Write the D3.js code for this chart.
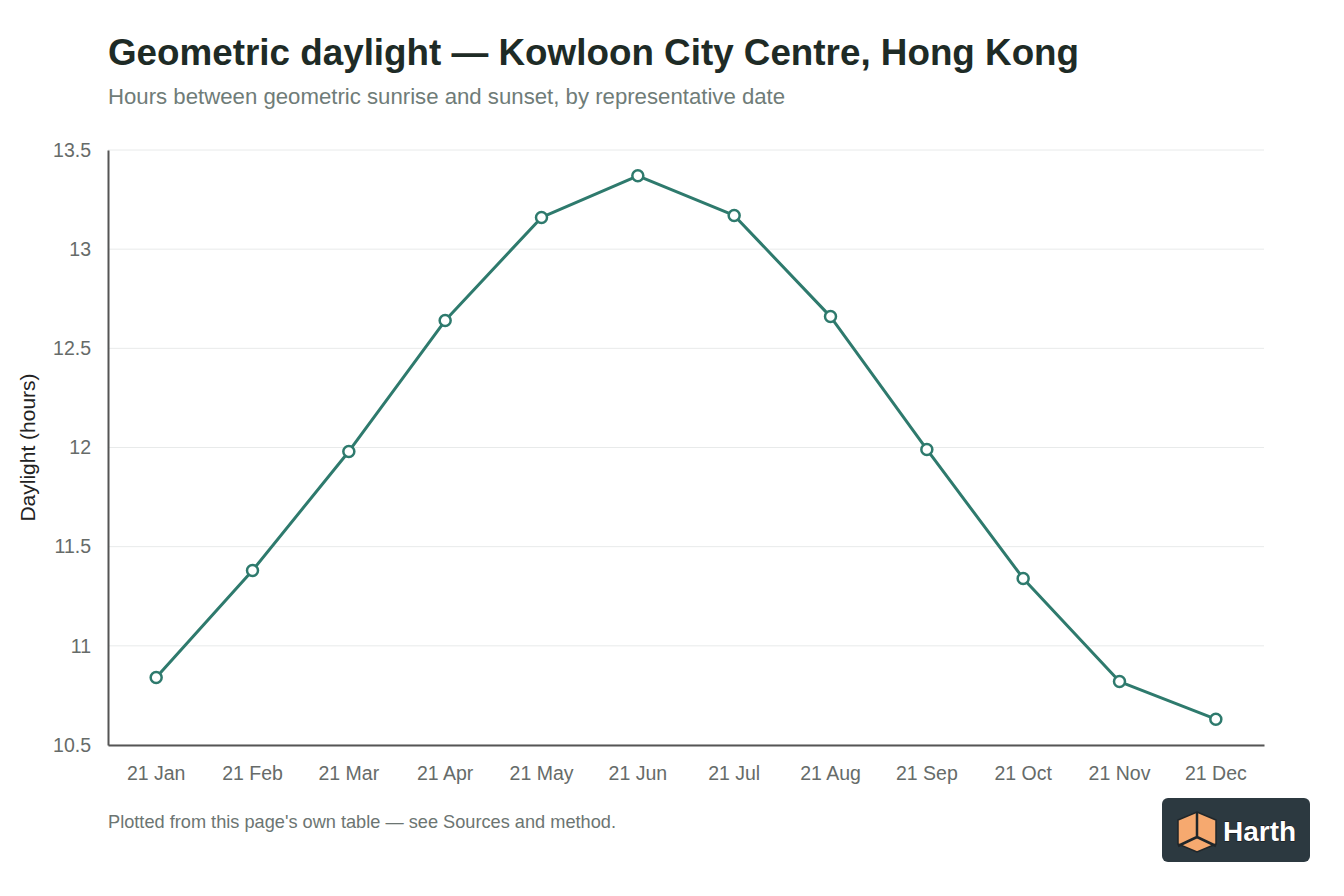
<!DOCTYPE html>
<html>
<head>
<meta charset="utf-8">
<title>Geometric daylight — Kowloon City Centre</title>
<style>
body { margin: 0; background: #fff; font-family: "Liberation Sans", Arial, Helvetica, sans-serif; }
#chart { width: 1344px; height: 896px; display: block; }
.grid line { stroke: #e8eaea; stroke-width: 1; }
.tick-label { fill: #666b69; font-size: 19.5px; }
</style>
</head>
<body>

<svg id="chart" width="1344" height="896"></svg>

<script src="https://d3js.org/d3.v7.min.js"></script>
<script>

// data
const dates = ["21 Jan", "21 Feb", "21 Mar", "21 Apr", "21 May", "21 Jun",
               "21 Jul", "21 Aug", "21 Sep", "21 Oct", "21 Nov", "21 Dec"];
const hours = [10.84, 11.38, 11.98, 12.64, 13.16, 13.37, 13.17, 12.66, 11.99, 11.34, 10.82, 10.63];
const yTicks = [10.5, 11, 11.5, 12, 12.5, 13, 13.5];

const margin = { top: 150, right: 80, bottom: 151, left: 108 };
const W = 1344, H = 896;

const svg = d3.select("#chart");

const x = d3.scaleBand()
  .domain(dates)
  .range([margin.left, W - margin.right]);

const y = d3.scaleLinear()
  .domain([10.5, 13.5])
  .range([H - margin.bottom, margin.top]);

// title + subtitle
svg.append("text")
  .attr("x", margin.left)
  .attr("y", 65)
  .attr("font-size", 36.8)
  .attr("font-weight", "bold")
  .attr("fill", "#1e2b26")
  .text("Geometric daylight — Kowloon City Centre, Hong Kong");

svg.append("text")
  .attr("x", margin.left)
  .attr("y", 104)
  .attr("font-size", 22.2)
  .attr("fill", "#6f7c78")
  .text("Hours between geometric sunrise and sunset, by representative date");

// gridlines
svg.append("g")
  .attr("class", "grid")
  .selectAll("line")
  .data(yTicks)
  .join("line")
  .attr("x1", margin.left)
  .attr("x2", W - margin.right)
  .attr("y1", d => y(d))
  .attr("y2", d => y(d));

// y axis
const yAxis = svg.append("g")
  .attr("transform", `translate(${margin.left},0)`)
  .call(d3.axisLeft(y).tickValues(yTicks).tickFormat(d => String(d)).tickSize(0).tickPadding(17));
yAxis.select(".domain").attr("stroke", "#555").attr("stroke-width", 2);
yAxis.selectAll("text").attr("class", "tick-label").attr("font-family", null).attr("font-size", null).attr("fill", null);

// x axis
const xAxis = svg.append("g")
  .attr("transform", `translate(0,${H - margin.bottom})`)
  .call(d3.axisBottom(x).tickSize(0).tickPadding(21));
xAxis.select(".domain").attr("stroke", "#555").attr("stroke-width", 2);
xAxis.selectAll("text").attr("class", "tick-label").attr("font-family", null).attr("font-size", null).attr("fill", null);

// y axis title
svg.append("text")
  .attr("transform", `translate(35,${(margin.top + H - margin.bottom) / 2}) rotate(-90)`)
  .attr("text-anchor", "middle")
  .attr("font-size", 21)
  .attr("fill", "#222")
  .text("Daylight (hours)");

// line + markers
const cx = d => x(d) + x.bandwidth() / 2;
const line = d3.line()
  .x((d, i) => cx(dates[i]))
  .y(d => y(d));

svg.append("path")
  .datum(hours)
  .attr("fill", "none")
  .attr("stroke", "#2e7a6d")
  .attr("stroke-width", 3)
  .attr("stroke-linejoin", "round")
  .attr("d", line);

svg.append("g")
  .selectAll("circle")
  .data(hours)
  .join("circle")
  .attr("cx", (d, i) => cx(dates[i]))
  .attr("cy", d => y(d))
  .attr("r", 5.5)
  .attr("fill", "#fff")
  .attr("stroke", "#2e7a6d")
  .attr("stroke-width", 2.5);

// footer note
svg.append("text")
  .attr("x", margin.left)
  .attr("y", 828)
  .attr("font-size", 18.2)
  .attr("fill", "#6c7572")
  .text("Plotted from this page's own table — see Sources and method.");

// logo badge
const logo = svg.append("g").attr("transform", "translate(1162,798)");
logo.append("rect")
  .attr("width", 148).attr("height", 64).attr("rx", 6)
  .attr("fill", "#2c3940");
const cube = logo.append("g").attr("transform", "translate(35,34)");
cube.append("path")
  .attr("d", "M0,-20 L19,-12 L19,12 L0,20 L-19,12 L-19,-12 Z")
  .attr("fill", "#f6a96f")
  .attr("stroke", "#1f262a").attr("stroke-width", 1.5);
cube.append("path")
  .attr("d", "M0,-20 L0,5 M0,5 L-19,14 M0,5 L19,14")
  .attr("fill", "none")
  .attr("stroke", "#1f262a").attr("stroke-width", 2.5);
logo.append("text")
  .attr("x", 61).attr("y", 43)
  .attr("font-size", 28)
  .attr("font-weight", "bold")
  .attr("fill", "#fff")
  .attr("stroke", "#111").attr("stroke-width", 0.8)
  .attr("paint-order", "stroke")
  .text("Harth");

</script>
</body>
</html>
